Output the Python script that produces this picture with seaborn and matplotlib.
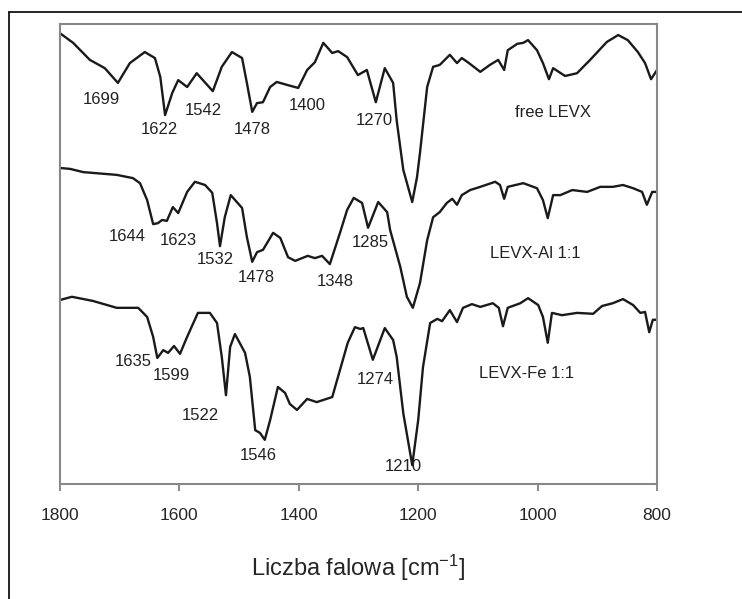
import numpy as np
import pandas as pd
import matplotlib
matplotlib.use("Agg")
import matplotlib.pyplot as plt
from matplotlib.lines import Line2D
import seaborn as sns

# wavenumber [cm-1] / transmittance [a.u.]
free_wn = [1800, 1778, 1750, 1725, 1703, 1683, 1658, 1641, 1632, 1624, 1612, 1602, 1587, 1571,
           1544, 1529, 1512, 1495, 1487, 1478, 1470, 1460, 1448, 1437, 1418, 1401, 1386, 1373,
           1359, 1344, 1334, 1319, 1301, 1286, 1271, 1256, 1242, 1236, 1225, 1210, 1202, 1197,
           1185, 1175, 1164, 1147, 1135, 1127, 1117, 1096, 1080, 1066, 1056, 1050, 1034, 1024,
           1016, 1001, 991, 981, 974, 954, 934, 912, 884, 865, 849, 832, 820, 810, 800]
free_t = [98.0, 95.9, 92.2, 90.4, 87.2, 91.5, 93.9, 92.6, 88.5, 80.2, 85.0, 87.8, 86.3, 89.3,
          85.4, 90.7, 93.9, 92.6, 87.2, 80.9, 82.8, 83.0, 86.3, 87.4, 86.7, 86.1, 90.0, 91.7,
          95.9, 93.7, 94.1, 92.8, 88.9, 90.0, 83.0, 90.4, 87.2, 79.0, 68.3, 61.3, 66.7, 72.0,
          86.3, 90.7, 91.1, 93.3, 91.5, 92.6, 91.7, 89.6, 91.1, 92.2, 90.0, 94.3, 95.7, 95.9,
          96.5, 94.3, 91.5, 88.0, 90.4, 88.7, 89.3, 92.2, 96.1, 97.6, 96.5, 93.9, 91.5, 88.0, 90.0]

al_wn = [1800, 1783, 1761, 1705, 1678, 1666, 1654, 1644, 1636, 1629, 1621, 1611, 1602, 1587,
         1574, 1557, 1545, 1537, 1532, 1524, 1514, 1495, 1487, 1478, 1470, 1460, 1443, 1431,
         1418, 1406, 1385, 1373, 1361, 1348, 1331, 1319, 1308, 1294, 1284, 1267, 1252, 1247,
         1230, 1219, 1209, 1197, 1185, 1175, 1164, 1152, 1143, 1135, 1127, 1113, 1096, 1071,
         1063, 1056, 1050, 1024, 1001, 991, 983, 974, 962, 942, 917, 895, 874, 857, 840, 825,
         817, 808, 800]
al_t = [68.7, 68.5, 67.8, 67.2, 66.5, 65.4, 61.7, 56.5, 56.7, 57.4, 57.2, 60.2, 58.9, 63.5,
        65.7, 65.0, 63.3, 56.7, 51.7, 58.0, 62.8, 60.0, 53.7, 48.3, 50.4, 50.9, 54.6, 53.5,
        49.3, 48.5, 49.6, 49.1, 49.6, 47.8, 54.6, 59.6, 62.2, 61.1, 55.7, 61.3, 59.1, 55.2,
        47.2, 40.7, 38.3, 43.7, 53.0, 58.0, 59.1, 61.1, 62.0, 60.7, 62.8, 63.9, 64.6, 65.7,
        65.0, 62.0, 64.6, 65.4, 64.3, 61.7, 57.8, 62.8, 62.8, 63.9, 63.5, 64.6, 64.6, 65.0,
        64.3, 63.5, 60.7, 63.5, 63.5]

fe_wn = [1800, 1780, 1745, 1705, 1669, 1654, 1644, 1637, 1627, 1619, 1609, 1599, 1587, 1569,
         1549, 1537, 1529, 1522, 1515, 1507, 1490, 1482, 1473, 1465, 1457, 1448, 1435, 1423,
         1415, 1403, 1386, 1370, 1344, 1331, 1318, 1306, 1297, 1292, 1276, 1256, 1242, 1236,
         1225, 1210, 1200, 1192, 1180, 1168, 1160, 1147, 1135, 1125, 1110, 1096, 1075, 1065,
         1058, 1050, 1029, 1016, 999, 991, 983, 976, 959, 934, 907, 892, 874, 857, 840, 828,
         820, 813, 807, 800]
fe_t = [40.0, 40.7, 39.8, 38.3, 38.3, 36.3, 32.0, 27.4, 29.1, 28.5, 30.0, 28.3, 32.0, 37.2,
        37.2, 35.0, 27.6, 19.3, 29.8, 32.6, 28.5, 23.3, 11.7, 11.1, 9.6, 13.9, 21.1, 19.8,
        17.4, 16.1, 18.5, 17.8, 18.9, 24.8, 30.7, 34.1, 33.7, 33.9, 27.0, 33.9, 31.3, 27.6,
        15.4, 4.1, 13.9, 25.4, 35.0, 35.9, 35.4, 37.8, 35.2, 38.3, 39.1, 38.5, 39.3, 38.3,
        34.3, 38.3, 39.3, 40.4, 38.9, 36.3, 30.7, 37.2, 36.7, 37.2, 37.0, 38.7, 39.3, 40.2,
        38.9, 37.2, 37.4, 33.0, 35.7, 35.7]

# peak labels: text, wavenumber, transmittance of label centre
peak_text = ["1699", "1622", "1542", "1478", "1400", "1270",
             "1644", "1623", "1532", "1478", "1348", "1285",
             "1635", "1599", "1522", "1546", "1274", "1210"]
peak_wn = [1730, 1634, 1560, 1478, 1386, 1274,
           1688, 1601, 1540, 1472, 1339, 1281,
           1678, 1614, 1565, 1468, 1272, 1225]
peak_t = [83.5, 77.0, 81.3, 77.0, 82.2, 79.1,
          53.9, 53.0, 48.7, 45.0, 44.1, 52.4,
          26.7, 23.5, 15.0, 6.3, 22.8, 3.7]

names = ["free LEVX", "LEVX-Al 1:1", "LEVX-Fe 1:1"]
name_wn = [974, 1004, 1018]
name_t = [80.7, 50.0, 24.1]


def main():
    sns.set_style("white")
    plt.rcParams["font.family"] = ["Liberation Sans", "DejaVu Sans"]
    plt.rcParams["mathtext.default"] = "regular"

    df = pd.concat([
        pd.DataFrame({"wn": free_wn, "t": free_t, "sample": names[0]}),
        pd.DataFrame({"wn": al_wn, "t": al_t, "sample": names[1]}),
        pd.DataFrame({"wn": fe_wn, "t": fe_t, "sample": names[2]}),
    ])

    fig = plt.figure(figsize=(7.42, 5.99), dpi=100)
    ax = fig.add_axes([60 / 742, 115 / 599, 597 / 742, 460 / 599])

    sns.lineplot(data=df, x="wn", y="t", units="sample", estimator=None, sort=False,
                 color="#1a1a1a", linewidth=1.7, ax=ax, legend=False,
                 solid_joinstyle="round", solid_capstyle="round")

    for txt, x, y in zip(peak_text, peak_wn, peak_t):
        ax.text(x, y, txt, ha="center", va="center", fontsize=12, color="#222222")
    for txt, x, y in zip(names, name_wn, name_t):
        ax.text(x, y, txt, ha="center", va="center", fontsize=12, color="#222222")

    ax.set_xlim(1800, 800)
    ax.set_ylim(0, 100)
    ax.set_xticks(np.arange(1800, 799, -200))
    ax.set_yticks([])
    ax.set_ylabel("")
    ax.set_xlabel("Liczba falowa [cm$^{-1}$]", fontsize=17, labelpad=22)
    ax.tick_params(axis="x", direction="out", length=5, width=1.2, color="#777777",
                   labelsize=12.5, pad=12, bottom=True)
    for sp in ax.spines.values():
        sp.set_color("#888888")
        sp.set_linewidth(1.5)

    # outer frame of the figure panel
    fig.add_artist(Line2D([9 / 742, 9 / 742], [0, 1 - 12 / 599], transform=fig.transFigure,
                          color="black", linewidth=1.2))
    fig.add_artist(Line2D([9 / 742, 1], [1 - 12 / 599, 1 - 12 / 599], transform=fig.transFigure,
                          color="black", linewidth=1.2))

    fig.savefig("out.png", dpi=100)


if __name__ == "__main__":
    main()
